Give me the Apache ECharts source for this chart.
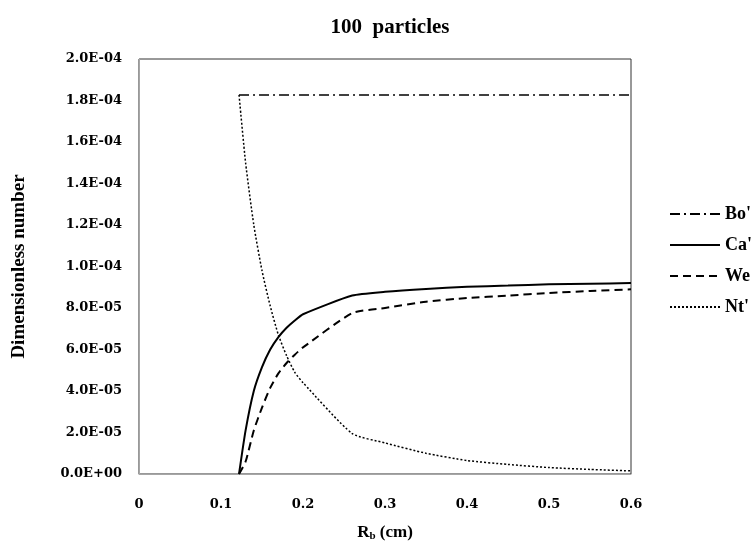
<!DOCTYPE html>
<html>
<head>
    <meta charset="UTF-8">
    <title>100 particles</title>
    <script src="https://cdn.jsdelivr.net/npm/echarts@6/dist/echarts.min.js"></script>
    <style>
        html, body { margin: 0; padding: 0; background: #fff; }
        #chart { width: 754px; height: 548px; }
    </style>
</head>
<body>
<div id="chart"></div>
<script>
// R_b (cm)
const rb = [0.122, 0.13, 0.14, 0.15, 0.16, 0.17, 0.18, 0.19, 0.2, 0.26, 0.3, 0.35, 0.4, 0.45, 0.5, 0.55, 0.6];

const boValues = [1.827e-4, 1.827e-4, 1.827e-4, 1.827e-4, 1.827e-4, 1.827e-4, 1.827e-4, 1.827e-4, 1.827e-4,
    1.827e-4, 1.827e-4, 1.827e-4, 1.827e-4, 1.827e-4, 1.827e-4, 1.827e-4, 1.827e-4];
const caValues = [0, 2.1e-5, 4.0e-5, 5.15e-5, 6.0e-5, 6.6e-5, 7.05e-5, 7.4e-5, 7.7e-5,
    8.6e-5, 8.78e-5, 8.92e-5, 9.02e-5, 9.08e-5, 9.14e-5, 9.17e-5, 9.2e-5];
const weValues = [0, 6e-6, 2.1e-5, 3.2e-5, 4.15e-5, 4.85e-5, 5.35e-5, 5.75e-5, 6.1e-5,
    7.75e-5, 8.0e-5, 8.3e-5, 8.48e-5, 8.6e-5, 8.72e-5, 8.82e-5, 8.9e-5];
const ntValues = [1.827e-4, 1.5e-4, 1.2e-4, 9.8e-5, 8.1e-5, 6.7e-5, 5.7e-5, 4.9e-5, 4.4e-5,
    1.95e-5, 1.5e-5, 1.0e-5, 6.5e-6, 4.6e-6, 3.1e-6, 2.2e-6, 1.5e-6];

const seriesNames = ["Bo'", "Ca'", "We", "Nt'"];
const yTickLabels = ['0.0E+00', '2.0E-05', '4.0E-05', '6.0E-05', '8.0E-05', '1.0E-04',
    '1.2E-04', '1.4E-04', '1.6E-04', '1.8E-04', '2.0E-04'];
const xTickLabels = ['0', '0.1', '0.2', '0.3', '0.4', '0.5', '0.6'];

const serif = '"Liberation Serif", "Times New Roman", serif';
const tickFont = '"DejaVu Serif", serif';

function pairs(ys) {
    return rb.map((x, i) => [x, ys[i]]);
}

const chart = echarts.init(document.getElementById('chart'));

const lineStyles = [
    { color: '#000', width: 1.5, type: [10, 4, 2, 4] },
    { color: '#000', width: 2, type: 'solid' },
    { color: '#000', width: 2, type: [8, 5] },
    { color: '#000', width: 1.5, type: [2, 2] }
];
const allValues = [boValues, caValues, weValues, ntValues];

const option = {
    animation: false,
    backgroundColor: '#fff',
    title: {
        text: '100  particles',
        left: 385,
        textAlign: 'center',
        top: 12,
        textStyle: { fontFamily: serif, fontWeight: 'bold', fontSize: 21, color: '#000' }
    },
    grid: {
        left: 139, right: 123, top: 59, bottom: 74,
        outerBoundsMode: 'none',
        show: true, borderColor: '#333', borderWidth: 1
    },
    legend: {
        orient: 'vertical',
        left: 664,
        top: 200,
        itemWidth: 50,
        itemHeight: 14,
        itemGap: 13,
        itemStyle: { opacity: 0 },
        textStyle: { fontFamily: serif, fontWeight: 'bold', fontSize: 18, color: '#000' },
        data: seriesNames
    },
    xAxis: {
        type: 'value',
        min: 0, max: 0.6, interval: 0.1,
        name: '{r|R}{s|b}{r| (cm)}',
        nameLocation: 'middle',
        nameGap: 49,
        nameTextStyle: {
            rich: {
                r: { fontFamily: serif, fontWeight: 'bold', fontSize: 17, color: '#000' },
                s: { fontFamily: serif, fontWeight: 'bold', fontSize: 11, color: '#000', padding: [8, 0, 0, 0] }
            }
        },
        splitLine: { show: false },
        axisTick: { show: false },
        axisLine: { lineStyle: { color: '#a6a6a6', width: 1 } },
        axisLabel: {
            margin: 24,
            fontFamily: tickFont, fontWeight: 'bold', fontSize: 13, color: '#000',
            formatter: (v) => xTickLabels[Math.round(v * 10)]
        }
    },
    yAxis: {
        type: 'value',
        min: 0, max: 2e-4, interval: 2e-5,
        name: 'Dimensionless number',
        nameLocation: 'middle',
        nameGap: 110,
        nameTextStyle: { fontFamily: serif, fontWeight: 'bold', fontSize: 19, color: '#000' },
        splitLine: { show: false },
        axisTick: { show: false },
        axisLine: { show: true, lineStyle: { color: '#a6a6a6', width: 1 } },
        axisLabel: {
            margin: 17,
            fontFamily: tickFont, fontWeight: 'bold', fontSize: 13, color: '#000',
            formatter: (v) => yTickLabels[Math.round(v / 2e-5)]
        }
    },
    series: seriesNames.map((name, k) => ({
        name: name,
        type: 'line',
        symbol: 'none',
        smooth: k === 0 ? false : 0.2,
        data: pairs(allValues[k]),
        lineStyle: lineStyles[k],
        itemStyle: { color: '#000' }
    }))
};

chart.setOption(option);
</script>
</body>
</html>
